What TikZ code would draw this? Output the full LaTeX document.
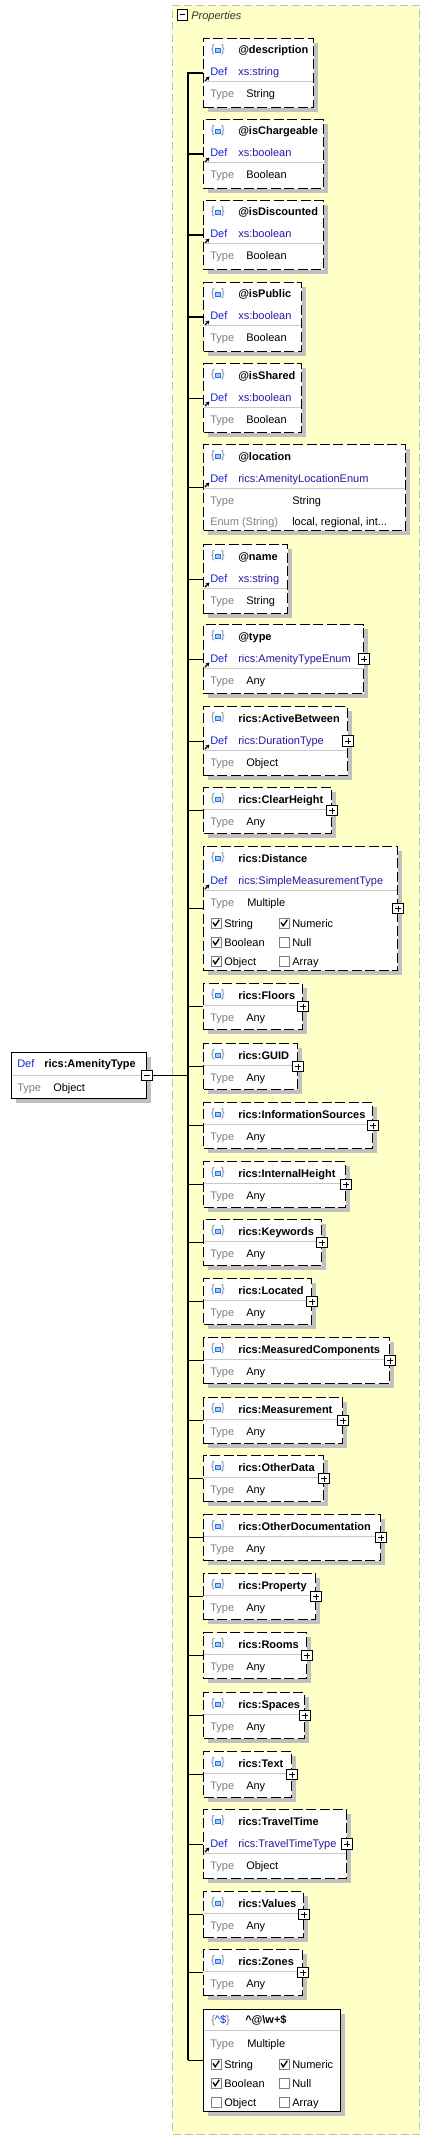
\documentclass[tikz,border=0pt]{standalone}
\usepackage{fontspec}
\setmainfont{Liberation Sans}
\usetikzlibrary{arrows.meta,shadows}

\definecolor{panelfill}{RGB}{255,255,200}
\definecolor{panelline}{RGB}{190,190,190}
\definecolor{defblue}{RGB}{20,40,210}
\definecolor{typeblue}{RGB}{50,20,160}
\definecolor{keygrey}{RGB}{128,128,128}
\definecolor{rulegrey}{RGB}{200,200,200}
\definecolor{shadowgrey}{RGB}{192,192,192}
\definecolor{iconblue}{RGB}{40,110,240}
\definecolor{iconfill}{RGB}{160,205,255}

\tikzset{
  propicon/.pic={
    \node[text=keygrey,inner sep=0pt] (-l) at (-5,0) {\{};
    \node[text=keygrey,inner sep=0pt] (-r) at (5,0) {\}};
    \draw[iconblue,fill=iconfill,line width=0.7pt] (-2.5,-2) rectangle (2.5,2);
  }
}

\begin{document}
\begin{tikzpicture}[
  x=0.75pt, y=-0.75pt,
  font=\fontsize{8.25pt}{10pt}\selectfont,
  panel/.style={draw=panelline,fill=panelfill,line width=0.75pt,
    dash pattern=on 6pt off 3pt,anchor=north west,inner sep=0pt},
  elem/.style={draw,fill=white,line width=0.9pt,anchor=north west,inner sep=0pt,
    dash pattern=on 7.5pt off 2.6pt,
    drop shadow={shadow xshift=3pt,shadow yshift=-3pt,fill=shadowgrey,opacity=1}},
  solidelem/.style={elem,solid},
  conn/.style={line width=0.9pt},
  rule/.style={rulegrey,line width=0.75pt},
  txt/.style={anchor=base west,inner sep=0pt},
  nm/.style={txt,font=\fontsize{8.25pt}{10pt}\selectfont\bfseries},
  def/.style={txt,text=defblue},
  deftype/.style={txt,text=typeblue},
  key/.style={txt,text=keygrey},
  toggle/.style={draw,fill=white,solid,line width=0.75pt,minimum size=8pt,inner sep=0pt},
  plus/.style={toggle,path picture={\draw[line width=0.75pt]
    ([yshift=-1.8pt]path picture bounding box.north) -- ([yshift=1.8pt]path picture bounding box.south)
    ([xshift=1.8pt]path picture bounding box.west) -- ([xshift=-1.8pt]path picture bounding box.east);}},
  minus/.style={toggle,path picture={\draw[line width=0.75pt]
    ([xshift=1.8pt]path picture bounding box.west) -- ([xshift=-1.8pt]path picture bounding box.east);}},
  defarrow/.style={-{Stealth[length=3pt,width=3.2pt]},line width=0.9pt},
  cbox/.style={draw=keygrey,fill=white,line width=0.6pt,minimum size=7.5pt,inner sep=0pt},
  ticked/.style={cbox,path picture={\draw[black,line width=1pt]
    ([xshift=1.5pt,yshift=0.5pt]path picture bounding box.west) --
    ([xshift=-0.6pt,yshift=1.7pt]path picture bounding box.south) --
    ([xshift=-1.3pt,yshift=-1.3pt]path picture bounding box.north east);}}
]
  \useasboundingbox (0,0) rectangle (430,2140);

  % properties panel
  \node[panel,minimum width=185.25pt,minimum height=1596.75pt] (props) at (172,5) {};
  \node[minus] (props-toggle) at (182.5,15) {};
  \node[txt,font=\fontsize{8.25pt}{10pt}\selectfont\itshape,text=black!80] (props-title) at (191,19.5) {Properties};

  \coordinate (trunk) at (188,72);
  \coordinate (trunk-end) at (188,2060);
  \draw[conn] (trunk) -- (trunk-end);

  % root type
  \node[solidelem,minimum width=101.25pt,minimum height=34.5pt] (amenity) at (11,1052) {};
  \node[def] (amenity-def) at (17,1067) {Def};
  \node[nm] (amenity-name) at (44,1067) {rics:AmenityType};
  \draw[rule] (11.5,1075) -- (145.5,1075);
  \node[key] (amenity-key) at (17,1091) {Type};
  \node[txt] (amenity-type) at (53,1091) {Object};
  \node[minus] (amenity-toggle) at (amenity.east) {};
  \draw[conn] (amenity-toggle.east) -- (amenity-toggle.east -| trunk);

  % properties with a definition
  \foreach \n/\yt/\xr/\lbl/\dref/\tval/\p in {
      description/38/313/@description/xs:string/String/0,
      isChargeable/119/323/@isChargeable/xs:boolean/Boolean/0,
      isDiscounted/200/323/@isDiscounted/xs:boolean/Boolean/0,
      isPublic/282/301/@isPublic/xs:boolean/Boolean/0,
      isShared/363/301/@isShared/xs:boolean/Boolean/0,
      attrName/544/287/@name/xs:string/String/0,
      attrType/624/363/@type/rics:AmenityTypeEnum/Any/1,
      activeBetween/706/347/rics:ActiveBetween/rics:DurationType/Object/1,
      travelTime/1809/346/rics:TravelTime/rics:TravelTimeType/Object/1}{
    \node[elem,minimum width={(\xr-203)*0.75pt},minimum height=51.75pt] (\n) at (203,\yt) {};
    \pic (\n-icon) at (218,\yt+12) {propicon};
    \node[nm] (\n-name) at (238,\yt+16) {\lbl};
    \node[def] (\n-def) at (210,\yt+38) {Def};
    \node[deftype] (\n-ref) at (238,\yt+38) {\dref};
    \draw[defarrow] (205,\yt+43) -- (209.5,\yt+38.5);
    \draw[rule] (203.5,\yt+44) -- (\xr-0.5,\yt+44);
    \node[key] (\n-key) at (210,\yt+60) {Type};
    \node[txt] (\n-type) at (246,\yt+60) {\tval};
    \ifnum\p=1 \node[plus] (\n-toggle) at (\n.east) {};\fi
    \draw[conn] (\n.west -| trunk) -- (\n.west);
  }

  % properties of any type
  \foreach \n/\yt/\xr/\lbl in {
      clearHeight/787/331/rics:ClearHeight,
      floors/983/302/rics:Floors,
      guid/1043/297/rics:GUID,
      informationSources/1102/372/rics:InformationSources,
      internalHeight/1161/345/rics:InternalHeight,
      keywords/1219/321/rics:Keywords,
      located/1278/311/rics:Located,
      measuredComponents/1337/389/rics:MeasuredComponents,
      measurement/1397/342/rics:Measurement,
      otherData/1455/323/rics:OtherData,
      otherDocumentation/1514/380/rics:OtherDocumentation,
      property/1573/315/rics:Property,
      rooms/1632/306/rics:Rooms,
      spaces/1692/304/rics:Spaces,
      propText/1751/291/rics:Text,
      propValues/1891/303/rics:Values,
      zones/1949/302/rics:Zones}{
    \node[elem,minimum width={(\xr-203)*0.75pt},minimum height=34.5pt] (\n) at (203,\yt) {};
    \pic (\n-icon) at (218,\yt+12) {propicon};
    \node[nm] (\n-name) at (238,\yt+16) {\lbl};
    \draw[rule] (203.5,\yt+22) -- (\xr-0.5,\yt+22);
    \node[key] (\n-key) at (210,\yt+38) {Type};
    \node[txt] (\n-type) at (246,\yt+38) {Any};
    \node[plus] (\n-toggle) at (\n.east) {};
    \draw[conn] (\n.west -| trunk) -- (\n.west);
  }

  % @location
  \node[elem,minimum width=151.5pt,minimum height=64.5pt] (location) at (203,444) {};
  \pic (location-icon) at (218,456) {propicon};
  \node[nm] (location-name) at (238,460) {@location};
  \node[def] (location-def) at (210,482) {Def};
  \node[deftype] (location-ref) at (238,482) {rics:AmenityLocationEnum};
  \draw[defarrow] (205,487) -- (209.5,482.5);
  \draw[rule] (203.5,488) -- (404.5,488);
  \node[key] (location-key) at (210,504) {Type};
  \node[txt] (location-type) at (292,504) {String};
  \node[key] (location-enumkey) at (210,525) {Enum (String)};
  \node[txt] (location-enum) at (292,525) {local, regional, int...};
  \draw[conn] (location.west -| trunk) -- (location.west);

  % rics:Distance
  \node[elem,minimum width=145.5pt,minimum height=93pt] (distance) at (203,846) {};
  \pic (distance-icon) at (218,858) {propicon};
  \node[nm] (distance-name) at (238,862) {rics:Distance};
  \node[def] (distance-def) at (210,884) {Def};
  \node[deftype] (distance-ref) at (238,884) {rics:SimpleMeasurementType};
  \draw[defarrow] (205,889) -- (209.5,884.5);
  \draw[rule] (203.5,890) -- (396.5,890);
  \node[key] (distance-key) at (210,906) {Type};
  \node[txt] (distance-type) at (247,906) {Multiple};
  \foreach \c/\xb/\yb/\lbl/\st in {str/216/923/String/ticked, num/284/923/Numeric/ticked,
      bool/216/942/Boolean/ticked, null/284/942/Null/cbox,
      obj/216/961/Object/ticked, arr/284/961/Array/cbox}{
    \node[\st] (distance-\c) at (\xb,\yb) {};
    \node[txt] (distance-\c-label) at (\xb+8,\yb+4) {\lbl};
  }
  \node[plus] (distance-toggle) at (distance.east) {};
  \draw[conn] (distance.west -| trunk) -- (distance.west);

  % pattern property
  \node[solidelem,minimum width=102.75pt,minimum height=76.5pt] (pattern) at (203,2009) {};
  \node[txt,text=keygrey] (pattern-icon) at (211,2023) {\{\textcolor{defblue}{\textasciicircum\$}\}};
  \node[nm] (pattern-name) at (245,2023) {\textasciicircum @\textbackslash w+\$};
  \draw[rule] (203.5,2030) -- (339.5,2030);
  \node[key] (pattern-key) at (210,2047) {Type};
  \node[txt] (pattern-type) at (247,2047) {Multiple};
  \foreach \c/\xb/\yb/\lbl/\st in {str/216/2064/String/ticked, num/284/2064/Numeric/ticked,
      bool/216/2083/Boolean/ticked, null/284/2083/Null/cbox,
      obj/216/2102/Object/cbox, arr/284/2102/Array/cbox}{
    \node[\st] (pattern-\c) at (\xb,\yb) {};
    \node[txt] (pattern-\c-label) at (\xb+8,\yb+4) {\lbl};
  }
  \draw[conn] (pattern.west -| trunk) -- (pattern.west);
\end{tikzpicture}
\end{document}
